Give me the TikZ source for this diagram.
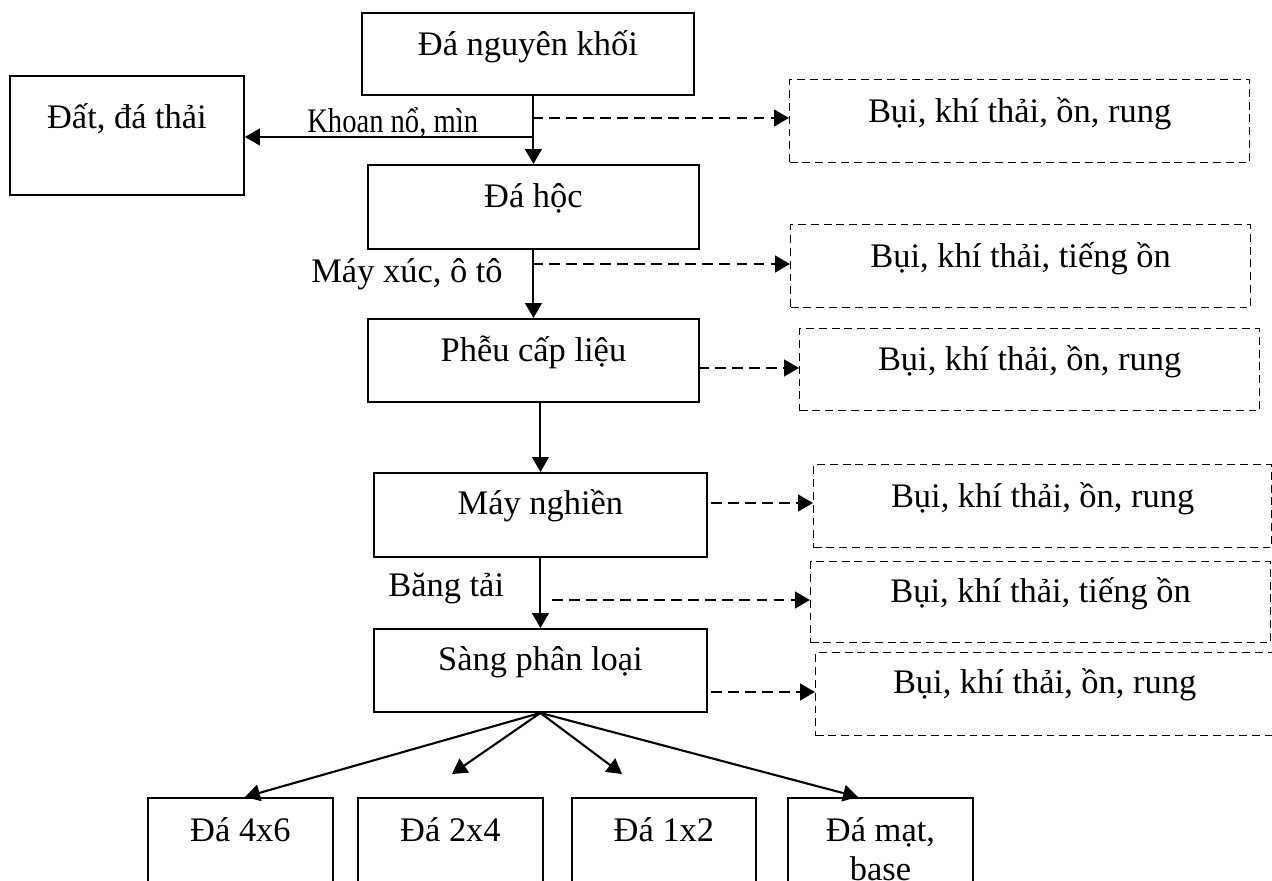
\documentclass[tikz,border=0pt]{standalone}
\usepackage{fontspec}
\setmainfont{Liberation Serif}
\usepackage{graphicx}
\usetikzlibrary{arrows.meta,calc}
\newcommand{\txt}{\fontsize{19.6}{22.5}\selectfont}
\tikzset{
	box/.style={draw, line width=1.1pt, inner sep=0pt, anchor=north west, font=\txt},
	dbox/.style={box, line width=0.75pt, dash pattern=on 4.5pt off 2.8pt},
	flow/.style={line width=1.2pt, -{Triangle[length=8.5pt,width=9.5pt]}},
	dflow/.style={flow, dash pattern=on 6pt off 3.7pt},
	lbl/.style={anchor=base west, inner sep=0pt, font=\txt}
}

\begin{document}
\begin{tikzpicture}[x=0.02cm, y=-0.02cm]
		%%%%% START %%%%%
		\useasboundingbox (0,0) rectangle (1272,881);
		
		% main line
		\node[box, minimum width=6.64cm, text height=0.86cm, text depth=0.78cm] (nguyen) at (361,12) {Đá nguyên khối};
		\node[box, minimum width=4.68cm, text height=1.06cm, text depth=1.32cm] (dat) at (9,75) {Đất, đá thải};
		\node[box, minimum width=6.62cm, text height=0.86cm, text depth=0.82cm] (hoc) at (367,164) {Đá hộc};
		\node[box, minimum width=6.62cm, text height=0.86cm, text depth=0.80cm] (pheu) at (367,318) {Phễu cấp liệu};
		\node[box, minimum width=6.66cm, text height=0.84cm, text depth=0.84cm] (nghien) at (373,472) {Máy nghiền};
		\node[box, minimum width=6.66cm, text height=0.84cm, text depth=0.82cm] (sang) at (373,628) {Sàng phân loại};
		
		% emissions
		\node[dbox, minimum width=9.20cm, text height=0.86cm, text depth=0.80cm] (b1) at (789,79) {Bụi, khí thải, ồn, rung};
		\node[dbox, minimum width=9.20cm, text height=0.86cm, text depth=0.80cm] (b2) at (790,224) {Bụi, khí thải, tiếng ồn};
		\node[dbox, minimum width=9.20cm, text height=0.84cm, text depth=0.80cm] (b3) at (799,328) {Bụi, khí thải, ồn, rung};
		\node[dbox, minimum width=9.16cm, text height=0.86cm, text depth=0.80cm] (b4) at (813,464) {Bụi, khí thải, ồn, rung};
		\node[dbox, minimum width=9.20cm, text height=0.82cm, text depth=0.80cm] (b5) at (810,561) {Bụi, khí thải, tiếng ồn};
		\node[dbox, minimum width=9.16cm, text height=0.82cm, text depth=0.84cm] (b6) at (815,652) {Bụi, khí thải, ồn, rung};
		
		% products
		\node[box, minimum width=3.70cm, text height=0.88cm, text depth=1.20cm] (d46) at (147,797) {Đá 4x6};
		\node[box, minimum width=3.70cm, text height=0.88cm, text depth=1.20cm] (d24) at (357,797) {Đá 2x4};
		\node[box, minimum width=3.68cm, text height=0.88cm, text depth=1.20cm] (d12) at (571,797) {Đá 1x2};
		\node[box, minimum width=3.70cm, text height=1.66cm, text depth=0.42cm, align=center] (mat) at (787,797) {Đá mạt,\\base};
		
		% labels
		\node[lbl] (khoan) at (307,133) {\scalebox{0.83}[1]{Khoan nổ, mìn}};
		\node[lbl] (xuc) at (311,283) {Máy xúc, ô tô};
		\node[lbl] (bang) at (388,597) {Băng tải};
		
		\coordinate (kh) at (532,137);
		\coordinate (kb) at (532,118);
		\coordinate (xb) at (532,264);
		\coordinate (pd) at (698,368);
		\coordinate (nd) at (711,503);
		\coordinate (bt) at (552,600);
		\coordinate (sd) at (711,692);
		\coordinate (f1) at (245,797);
		\coordinate (f2) at (452,774);
		\coordinate (f3) at (622,774);
		\coordinate (f4) at (858,797);
		
		\draw[flow] (hoc.north |- nguyen.south) -- (hoc.north);
		\draw[flow] (kh) -- (kh -| dat.east);
		\draw[dflow] (kb) -- (kb -| b1.west);
		
		\draw[flow] (hoc.south) -- (pheu.north);
		\draw[dflow] (xb) -- (xb -| b2.west);
		\draw[dflow] (pd) -- (pd -| b3.west);
		
		\draw[flow] (nghien.north |- pheu.south) -- (nghien.north);
		\draw[dflow] (nd) -- (nd -| b4.west);
		
		\draw[flow] (nghien.south) -- (sang.north);
		\draw[dflow] (bt) -- (bt -| b5.west);
		\draw[dflow] (sd) -- (sd -| b6.west);
		
		\draw[flow] (sang.south) -- (f1);
		\draw[flow] (sang.south) -- (f2);
		\draw[flow] (sang.south) -- (f3);
		\draw[flow] (sang.south) -- (f4);
		
		%%%%% END %%%%%
	\end{tikzpicture}
\end{document}
